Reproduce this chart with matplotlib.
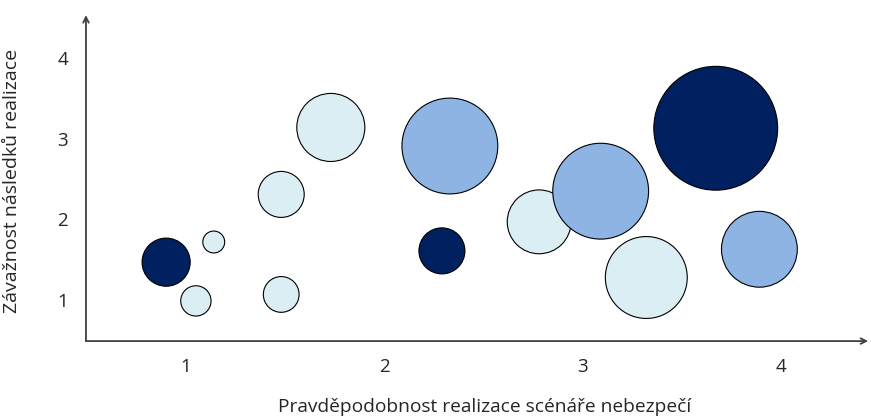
import numpy as np
from matplotlib import pyplot as plt

# scenario data: probability (x), severity (y), bubble value, category
prob = [0.90, 1.14, 1.05, 1.48, 1.48, 1.73, 2.33, 2.29, 2.78, 3.09, 3.32, 3.67, 3.89]
sever = [1.47, 1.72, 0.99, 2.31, 1.07, 3.14, 2.91, 1.61, 1.97, 2.35, 1.28, 3.13, 1.63]
value = [5.8, 1.2, 2.3, 5.3, 3.2, 11.6, 23.0, 5.3, 10.2, 23.0, 16.8, 38.4, 14.4]
level = [2, 0, 0, 0, 0, 0, 1, 2, 0, 1, 0, 2, 1]

colors = ['#DBEEF4', '#8EB4E3', '#002060']
ticks = [1, 2, 3, 4]

fig = plt.figure(figsize=(8.71, 4.19), dpi=100)
ax = fig.add_axes([0.0987, 0.186, 0.898, 0.778])

ax.scatter(prob, sever, s=np.array(value) * 207,
           c=[colors[i] for i in level], edgecolors='black', linewidths=0.8, zorder=3)

ax.set_xlim(0.496, 4.438)
ax.set_ylim(0.492, 4.533)

for s in ax.spines.values():
    s.set_visible(False)
ax.annotate('', xy=(1.0, 0), xytext=(0, 0), xycoords='axes fraction',
            arrowprops=dict(arrowstyle='->', color='#404040', lw=1.3, shrinkA=0, shrinkB=0))
ax.annotate('', xy=(0, 1.0), xytext=(0, 0), xycoords='axes fraction',
            arrowprops=dict(arrowstyle='->', color='#404040', lw=1.3, shrinkA=0, shrinkB=0))

ax.set_xticks(ticks)
ax.set_yticks(ticks)
ax.tick_params(length=0, labelsize=13.5, labelcolor='#262626')
ax.tick_params(axis='x', pad=12)
ax.tick_params(axis='y', pad=13)
for t in ax.get_xticklabels() + ax.get_yticklabels():
    t.set_family('Open Sans')

ax.set_xlabel('Pravděpodobnost realizace scénáře nebezpečí', fontsize=13.8, color='#262626',
              family='Open Sans')
ax.set_ylabel('Závažnost následků realizace', fontsize=14, color='#262626',
              family='Open Sans')
ax.xaxis.set_label_coords(0.51, -0.175)
ax.yaxis.set_label_coords(-0.083, 0.49)

plt.savefig('out.png')
